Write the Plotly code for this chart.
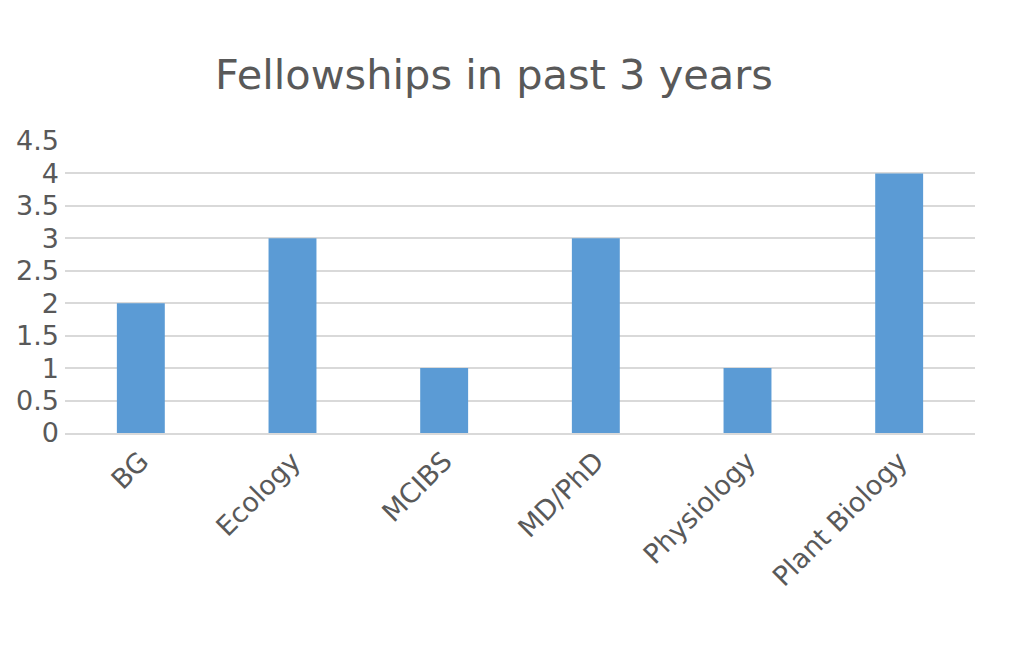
import plotly.graph_objects as go

categories = ["BG", "Ecology", "MCIBS", "MD/PhD", "Physiology", "Plant Biology"]
values = [2, 3, 1, 3, 1, 4]
y_ticks = [0, 0.5, 1, 1.5, 2, 2.5, 3, 3.5, 4, 4.5]
y_tick_labels = ["0", "0.5", "1", "1.5", "2", "2.5", "3", "3.5", "4", "4.5"]

fig = go.Figure(go.Bar(x=categories, y=values, marker=dict(color="#5B9BD5", line=dict(width=0))))

fig.update_layout(
    width=1024, height=655,
    paper_bgcolor="white", plot_bgcolor="white",
    font=dict(family="DejaVu Sans", color="#595959"),
    title=dict(text="Fellowships in past 3 years", x=0.4746, xanchor="center", y=0.898, yanchor="middle",
               font=dict(size=41.5, color="#595959")),
    margin=dict(l=57, r=57, t=133, b=230),
    bargap=0.684,
    showlegend=False,
    xaxis=dict(tickangle=-45, tickfont=dict(size=27, color="#595959"), showline=True,
               linecolor="#D9D9D9", linewidth=1.5, ticks="", showgrid=False, automargin=False),
    yaxis=dict(range=[0, 4.5], tickvals=y_ticks, ticktext=y_tick_labels,
               tickfont=dict(size=27, color="#595959"), showgrid=True, gridcolor="#D9D9D9",
               gridwidth=1.5, zeroline=False, ticks="", ticklabelstandoff=5, automargin=False),
)
fig.write_html("out.html")
